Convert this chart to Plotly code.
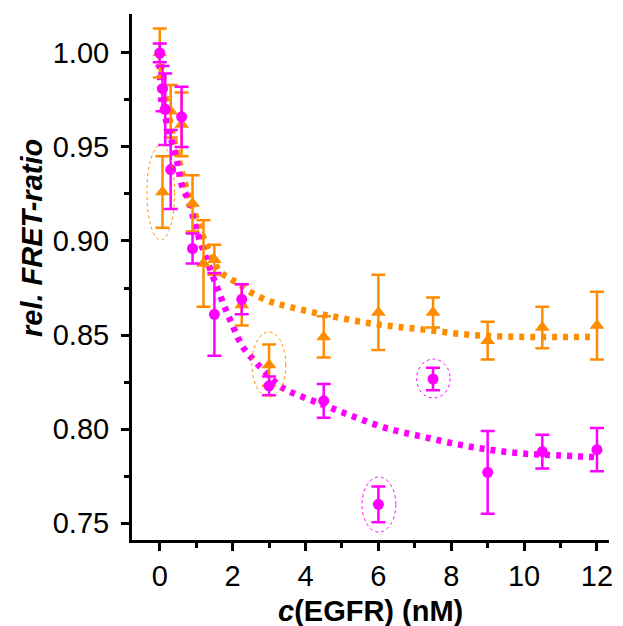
import plotly.graph_objects as go

# --- data ---
orange_x = [0, 0.075, 0.3, 0.6, 0.9, 1.2, 1.5, 2.25, 3, 4.5, 6, 7.5, 9, 10.5, 12]
orange_y = [1.000, 0.926, 0.969, 0.962, 0.920, 0.888, 0.890, 0.866, 0.834, 0.849, 0.862, 0.862, 0.847, 0.854, 0.855]
orange_err = [0.013, 0.019, 0.014, 0.017, 0.015, 0.023, 0.008, 0.011, 0.011, 0.011, 0.020, 0.008, 0.010, 0.011, 0.018]

magenta_x = [0, 0.075, 0.15, 0.3, 0.6, 0.9, 1.5, 2.25, 3, 4.5, 6, 7.5, 9, 10.5, 12]
magenta_y = [1.000, 0.981, 0.970, 0.938, 0.966, 0.896, 0.861, 0.869, 0.823, 0.815, 0.760, 0.8266, 0.777, 0.788, 0.789]
magenta_err = [0.005, 0.012, 0.019, 0.021, 0.016, 0.008, 0.022, 0.008, 0.005, 0.009, 0.0095, 0.006, 0.022, 0.009, 0.0115]

orange_fit_x = [0, 0.1, 0.2, 0.35, 0.5, 0.7, 0.9, 1.1, 1.3, 1.64, 1.92, 2.19, 2.47, 3.0, 3.34, 4.47, 5.84, 7.2, 8.58, 9.95, 11.0, 12.0]
orange_fit_y = [1.0, 0.985, 0.972, 0.957, 0.945, 0.930, 0.918, 0.907, 0.897, 0.884, 0.880, 0.877, 0.873, 0.868, 0.866, 0.861, 0.856, 0.853, 0.850, 0.849, 0.849, 0.849]

magenta_fit_x = [0, 0.05, 0.19, 0.33, 0.49, 0.6, 0.82, 0.96, 1.04, 1.25, 1.56, 1.78, 2.0, 2.27, 2.66, 3.29, 3.56, 4.47, 5.4, 6.3, 7.2, 8.14, 9.04, 9.95, 10.9, 12.0]
magenta_fit_y = [1.0, 0.974, 0.963, 0.953, 0.941, 0.930, 0.920, 0.909, 0.904, 0.892, 0.876, 0.865, 0.855, 0.844, 0.835, 0.823, 0.820, 0.813, 0.806, 0.800, 0.796, 0.792, 0.789, 0.787, 0.786, 0.785]

# highlighted (circled) points: (x0, x1, y0, y1, colour)
circles = [
    (-0.354, 0.408, 0.9005, 0.951, "#FF8C00"),
    (2.53, 3.46, 0.817, 0.8516, "#FF8C00"),
    (5.55, 6.48, 0.7452, 0.7745, "#FF00FF"),
    (7.05, 7.97, 0.8165, 0.8372, "#FF00FF"),
]

x_tick_vals = [0, 2, 4, 6, 8, 10, 12]
y_tick_vals = [0.75, 0.80, 0.85, 0.90, 0.95, 1.00]
y_tick_text = ["0.75", "0.80", "0.85", "0.90", "0.95", "1.00"]

ORANGE = "#FF8C00"
MAGENTA = "#FF00FF"
FONT = "Liberation Sans, Arial, sans-serif"

fig = go.Figure()

fig.add_trace(go.Scatter(x=orange_fit_x, y=orange_fit_y, mode="lines",
                         line=dict(color=ORANGE, width=6.5, dash="5px,6px", shape="spline"),
                         showlegend=False, hoverinfo="skip"))
fig.add_trace(go.Scatter(x=magenta_fit_x, y=magenta_fit_y, mode="lines",
                         line=dict(color=MAGENTA, width=6.5, dash="5px,6px", shape="spline"),
                         showlegend=False, hoverinfo="skip"))

fig.add_trace(go.Scatter(x=orange_x, y=orange_y, mode="markers",
                         marker=dict(symbol="triangle-up", size=13, color=ORANGE),
                         error_y=dict(type="data", array=orange_err, color=ORANGE, thickness=2.5, width=7),
                         showlegend=False))
fig.add_trace(go.Scatter(x=magenta_x, y=magenta_y, mode="markers",
                         marker=dict(symbol="circle", size=11, color=MAGENTA),
                         error_y=dict(type="data", array=magenta_err, color=MAGENTA, thickness=2.5, width=7),
                         showlegend=False))

for x0, x1, y0, y1, c in circles:
    fig.add_shape(type="circle", xref="x", yref="y", x0=x0, x1=x1, y0=y0, y1=y1,
                  line=dict(color=c, width=1, dash="dot"), layer="above")

fig.update_layout(
    width=623, height=626,
    margin=dict(l=132, r=10, t=14, b=86),
    paper_bgcolor="white", plot_bgcolor="white",
    font=dict(family=FONT, size=29, color="black"),
    xaxis=dict(range=[-0.762, 12.33], tickvals=x_tick_vals, showgrid=False, zeroline=False,
               showline=True, linecolor="black", linewidth=3, ticks="outside", ticklen=8,
               tickwidth=3, tickcolor="black", tickfont=dict(size=29),
               minor=dict(dtick=1, tick0=1, ticks="outside", ticklen=5, tickwidth=3, tickcolor="black")),
    yaxis=dict(range=[0.741, 1.0207], tickvals=y_tick_vals, ticktext=y_tick_text, showgrid=False,
               zeroline=False, showline=True, linecolor="black", linewidth=3, ticks="outside",
               ticklen=8, tickwidth=3, tickcolor="black", tickfont=dict(size=29), ticklabelstandoff=6,
               minor=dict(dtick=0.05, tick0=0.775, ticks="outside", ticklen=5, tickwidth=3, tickcolor="black")),
    annotations=[
        dict(text="<b><i>rel. FRET-ratio</i></b>", xref="paper", yref="paper", x=0, xshift=-100,
             y=(540 - 238) / 526, textangle=-90, showarrow=False, font=dict(size=29),
             xanchor="center", yanchor="middle"),
        dict(text="<b><i>c</i>(EGFR) (nM)</b>", xref="paper", yref="paper", x=0.5, y=0, yshift=-71,
             showarrow=False, font=dict(size=29), xanchor="center", yanchor="middle"),
    ],
)

fig.write_html("out.html")
